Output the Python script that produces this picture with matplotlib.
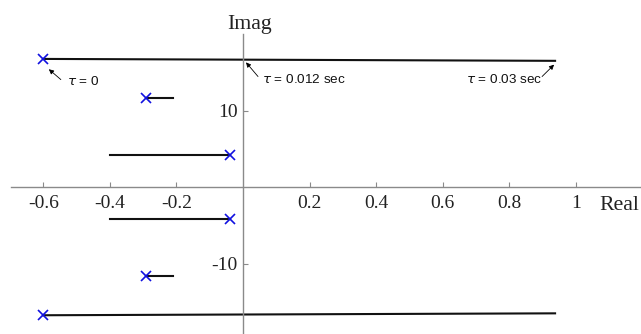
import matplotlib
matplotlib.use("Agg")
from matplotlib import pyplot as plt

# root locus branches (upper half, lower half is the conjugate)
pole_re = [-0.60, -0.29, -0.04]
pole_im = [16.75, 11.6, 4.2]
end_re = [0.937, -0.21, -0.40]
end_im = [16.5, 11.6, 4.2]

xtick_vals = [-0.6, -0.4, -0.2, 0.2, 0.4, 0.6, 0.8, 1]
xtick_labels = ["-0.6", "-0.4", "-0.2", "0.2", "0.4", "0.6", "0.8", "1"]
ytick_vals = [-10, 10]
ytick_labels = ["-10", "10"]

# annotations: text, arrow head, arrow tail, text anchor, alignment
notes = [
    (r"$\tau$ = 0", (-0.583, 15.4), (-0.547, 14.05), (-0.529, 13.8), "left"),
    (r"$\tau$ = 0.012 sec", (0.009, 16.3), (0.045, 14.45), (0.057, 14.0), "left"),
    (r"$\tau$ = 0.03 sec", (0.934, 16.0), (0.898, 14.45), (0.898, 14.0), "right"),
]

dpi = 100
fig = plt.figure(figsize=(641 / dpi, 334 / dpi), dpi=dpi)
ax = fig.add_axes([0, 0, 1, 1])
ax.set_xlim(-0.7297, 1.195)
ax.set_ylim(-19.2, 24.45)

for sign in (1, -1):
    for pr, pi, er, ei in zip(pole_re, pole_im, end_re, end_im):
        ax.plot([pr, er], [sign * pi, sign * ei], color="#111111", lw=1.5, zorder=2)
    ax.plot(pole_re, [sign * v for v in pole_im], linestyle="none", marker="x",
            color="#1010e0", markersize=6.5, mew=1.2, zorder=3)

for txt, head, tail, pos, ha in notes:
    ax.annotate("", xy=head, xytext=tail,
                arrowprops=dict(arrowstyle="-|>", color="black", lw=0.6,
                                mutation_scale=7, shrinkA=0, shrinkB=0))
    ax.text(pos[0], pos[1], txt, ha=ha, va="center", fontsize=9.7,
            family="Liberation Sans", color="#111111")

for s in ("top", "right"):
    ax.spines[s].set_visible(False)
ax.spines["left"].set_position(("data", 0))
ax.spines["bottom"].set_position(("data", 0))
ax.spines["left"].set_bounds(-19.2, 20)
ax.spines["bottom"].set_bounds(-0.697, 1.195)
for s in ("left", "bottom"):
    ax.spines[s].set_color("#8a8a8a")
    ax.spines[s].set_linewidth(1.0)

ax.set_xticks(xtick_vals)
ax.set_xticklabels(xtick_labels)
ax.set_yticks(ytick_vals)
ax.set_yticklabels(ytick_labels)
ax.tick_params(direction="in", length=3.6, color="#8a8a8a", labelsize=14,
               labelcolor="#222222", pad=4)
ax.tick_params(axis="x", pad=6)
for lab in ax.get_xticklabels() + ax.get_yticklabels():
    lab.set_family("Liberation Serif")

fig.text(249.5 / 641, 1 - 24 / 334, "Imag", ha="center", va="center",
         fontsize=15.7, family="Liberation Serif", color="#222222")
fig.text(599 / 641, 1 - 205 / 334, "Real", ha="left", va="center",
         fontsize=15.7, family="Liberation Serif", color="#222222")

fig.savefig("out.png", dpi=dpi)
